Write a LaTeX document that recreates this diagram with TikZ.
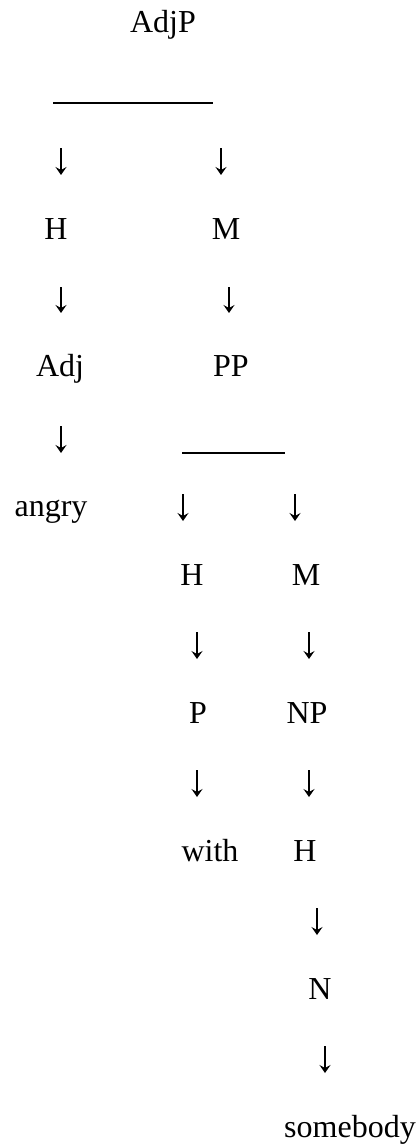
\documentclass[tikz,border=0pt]{standalone}
\usepackage{fontspec}
\setmainfont{Liberation Serif}
\usetikzlibrary{arrows.meta}
\begin{document}
\begin{tikzpicture}[x=1pt,y=-1pt,
  lbl/.style={anchor=base,inner sep=0pt,font=\fontsize{32}{38}\selectfont},
  downarr/.style={line width=1.4pt,-{Stealth[length=8pt,width=11pt,inset=3pt]}},
  bar/.style={line width=1.6pt,black}]
\useasboundingbox (0,0) rectangle (420,1148);
% level 0
\node[lbl] (adjp) at (163,33) {AdjP};
\coordinate (b1l) at (53,103);
\coordinate (b1r) at (213,103);
\draw[bar] (b1l) -- (b1r);
% arrows coordinates
\coordinate (a1t) at (61,148);  \coordinate (a1b) at (61,175);
\coordinate (a2t) at (221,148); \coordinate (a2b) at (221,175);
\coordinate (a3t) at (61,287);  \coordinate (a3b) at (61,313);
\coordinate (a4t) at (229,287); \coordinate (a4b) at (229,313);
\coordinate (a5t) at (61,426);  \coordinate (a5b) at (61,453);
\coordinate (a6t) at (183,494); \coordinate (a6b) at (183,521);
\coordinate (a7t) at (295,494); \coordinate (a7b) at (295,521);
\coordinate (a8t) at (197,632); \coordinate (a8b) at (197,659);
\coordinate (a9t) at (309,632); \coordinate (a9b) at (309,659);
\coordinate (a10t) at (197,770); \coordinate (a10b) at (197,797);
\coordinate (a11t) at (309,770); \coordinate (a11b) at (309,797);
\coordinate (a12t) at (317,908); \coordinate (a12b) at (317,935);
\coordinate (a13t) at (325,1046); \coordinate (a13b) at (325,1073);
\foreach \i in {1,...,13} {\draw[downarr] (a\i t) -- (a\i b);}
% labels
\node[lbl] (h1) at (56,239) {H};
\node[lbl] (m1) at (226,239) {M};
\node[lbl] (adj) at (60,376) {Adj};
\node[lbl] (pp) at (231,376) {PP};
\coordinate (b2l) at (182,453);
\coordinate (b2r) at (285,453);
\draw[bar] (b2l) -- (b2r);
\node[lbl] (angry) at (51,516) {angry};
\node[lbl] (h2) at (192,585) {H};
\node[lbl] (m2) at (306,585) {M};
\node[lbl] (p) at (198,723) {P};
\node[lbl] (np) at (307,723) {NP};
\node[lbl] (with) at (210,861) {with};
\node[lbl] (h3) at (305,861) {H};
\node[lbl] (n) at (320,999) {N};
\node[lbl] (sb) at (350,1137) {somebody};
\end{tikzpicture}
\end{document}
